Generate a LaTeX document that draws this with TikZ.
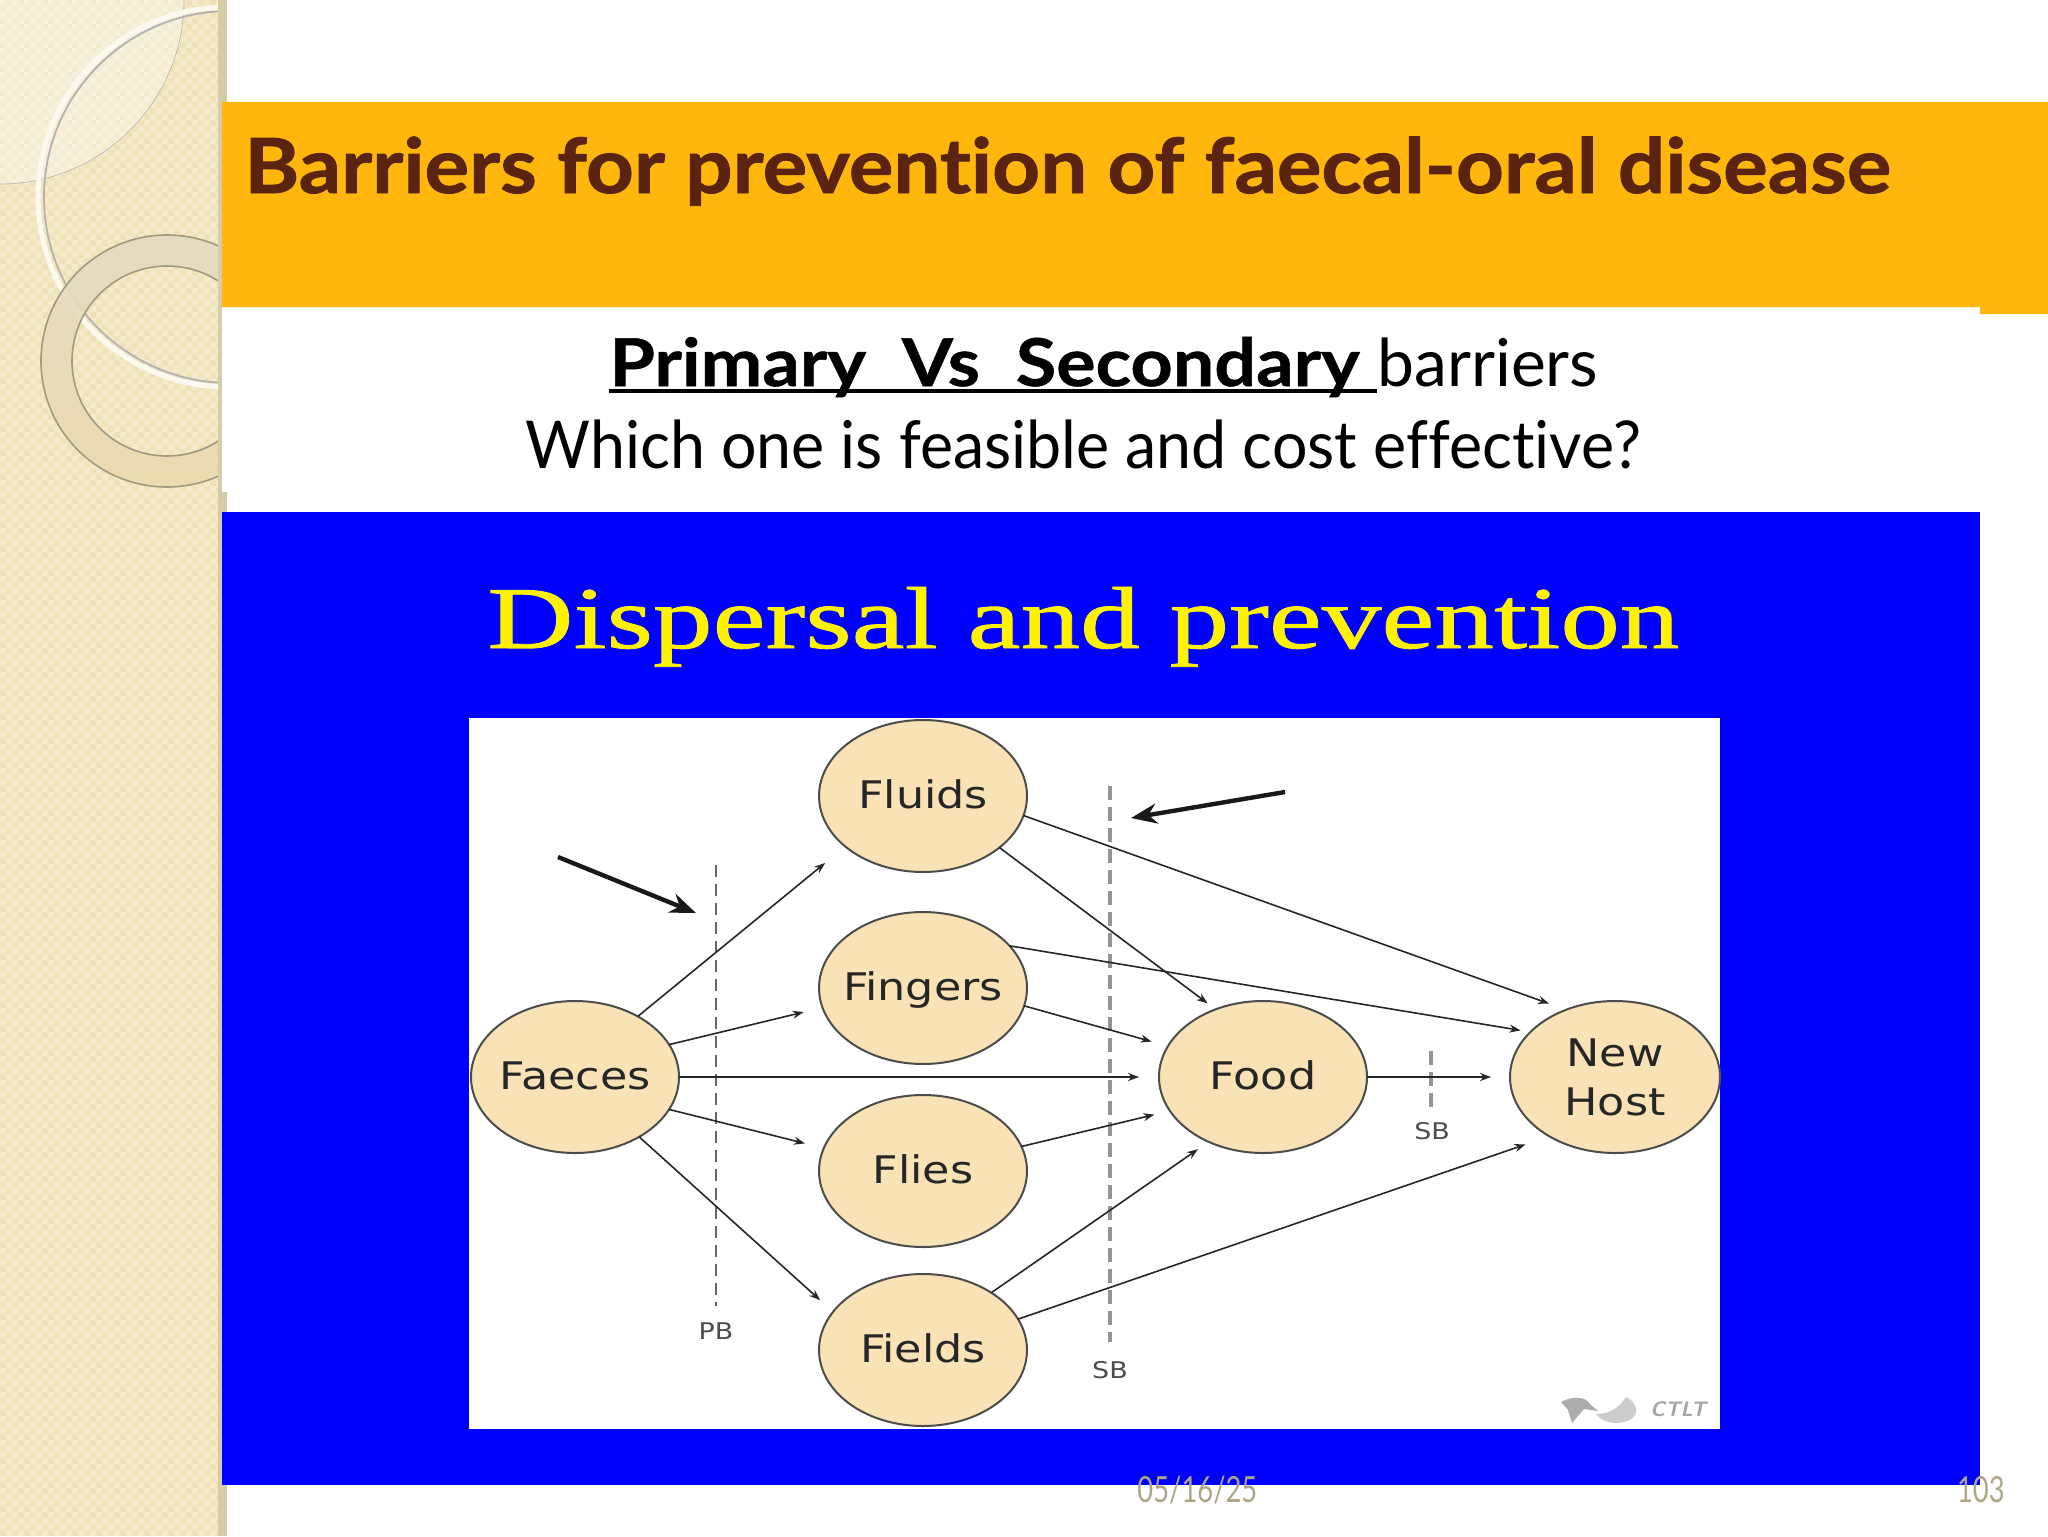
\documentclass[tikz,border=0pt]{standalone}
\usepackage{fontspec}
\setmainfont[Ligatures=NoCommon]{Lato}
\newfontfamily\titlefont[Ligatures=NoCommon,FakeStretch=1.098,FakeBold=1.2]{Lato Bold}
\newfontfamily\strongfont[Ligatures=NoCommon,FakeStretch=1.116,FakeBold=0.8]{Lato Bold}
\newfontfamily\subfont[Ligatures=NoCommon,FakeStretch=0.95]{Lato}
\newfontfamily\diagramfont[FakeStretch=1.17]{DejaVu Sans}
\newfontfamily\headfont[FakeStretch=1.355,FakeBold=1]{Liberation Serif}
\newfontfamily\footfont[FakeStretch=0.76]{Lato}
\usetikzlibrary{shapes.geometric,arrows.meta}
\definecolor{sidebase}{HTML}{EFE2B8}
\definecolor{sidedot}{HTML}{F4EACA}
\definecolor{sidestrip}{HTML}{D5CDA8}
\definecolor{bandorange}{HTML}{FFB60D}
\definecolor{titlebrown}{HTML}{5A2410}
\definecolor{bubblefill}{HTML}{F8E2B6}
\definecolor{footgrey}{HTML}{ADA587}
\tikzset{
  bubble/.style={ellipse,draw=black!70,fill=bubblefill,line width=1pt,inner xsep=-14pt,inner ysep=-14pt,outer sep=0pt,
    minimum width=104pt,minimum height=76pt,font=\diagramfont\fontsize{19}{21}\selectfont,
    text=black!85},
  single/.style={bubble,text height=12pt,text depth=0pt},
  route/.style={-{Stealth[length=5.5pt,width=4pt]},line width=0.8pt,black!85},
  barrier/.style={dash pattern=on 6pt off 3.5pt,line width=1.2pt,black!60},
  widebar/.style={dash pattern=on 7pt off 3.5pt,line width=2.2pt,black!42},
  pointer/.style={-{Stealth[length=13pt,width=10pt]},line width=2.2pt,black!90},
  tag/.style={font=\diagramfont\fontsize{11.5}{12}\selectfont,text=black!70,inner sep=0pt}
}
\begin{document}
\begin{tikzpicture}[x=0.5pt,y=-0.5pt]
  \useasboundingbox (0,0) rectangle (2048,1536);
  % sidebar
  \fill[sidebase] (0,0) rectangle (222,1536);
  \begin{scope}
    \clip (0,0) rectangle (222,1536);
    \fill[sidedot] \foreach \i in {0,12,...,216} {\foreach \j in {0,12,...,1524}
      {(\i,\j) rectangle ++(6,6) (\i+6,\j+6) rectangle ++(6,6)}};
    \fill[white,opacity=0.35] (0,0) circle (184);
    \draw[black!30,line width=0.3pt] (0,0) circle (184);
    \draw[black!30,line width=0.9pt] (230,197) circle (186);
    \draw[white!80!sidebase,line width=2.5pt] (228,197) circle (190);
    \shade[even odd rule,top color=white!30!sidebase!85!gray,bottom color=sidebase!92!brown,opacity=0.9]
      (167,361) circle (126) (167,361) circle (95);
    \draw[sidestrip!75!black,line width=0.8pt] (167,361) circle (126) (167,361) circle (95);
  \end{scope}
  \fill[sidestrip] (218,0) rectangle (227,1536);
  % bands
  \fill[white] (222,307) rectangle (1980,492);
  \fill[bandorange] (222,102) rectangle (2048,307) (1980,300) rectangle (2048,314);
  \fill[blue] (222,512) rectangle (1980,1485);
  \fill[white] (469,718) rectangle (1720,1429);
  % texts
  \node[anchor=base west,inner sep=0pt,text=titlebrown,font=\titlefont\fontsize{38}{40}\selectfont] (title) at (244,193)
    {Barriers for prevention of faecal-oral disease};
  \node[anchor=base west,inner sep=0pt,font=\strongfont\fontsize{33}{36}\selectfont] (lineone) at (609,386)
    {Primary\ \ Vs\ \ Secondary};
  \node[anchor=base west,inner sep=0pt,font=\fontsize{33}{36}\selectfont] (linetail) at (1377,386) {barriers};
  \draw[line width=2pt] ([yshift=-2.5pt]lineone.base west) to ([yshift=-2.5pt]linetail.base west);
  \node[anchor=base west,inner sep=0pt,font=\subfont\fontsize{33}{36}\selectfont] (linetwo) at (525,468)
    {Which one is feasible and cost effective?};
  \node[anchor=base west,inner sep=0pt,text=yellow,font=\headfont\fontsize{44}{46}\selectfont] (head) at (487,648)
    {Dispersal and prevention};
  % barriers
  \coordinate (pbtop) at (716,865);
  \coordinate (pbend) at (716,1306);
  \coordinate (sbtop) at (1110,786);
  \coordinate (sbend) at (1110,1342);
  \coordinate (sctop) at (1431,1051);
  \coordinate (scend) at (1431,1111);
  \draw[barrier] (pbtop) to (pbend);
  \draw[widebar] (sbtop) to (sbend);
  \draw[widebar,line width=1.6pt] (sctop) to (scend);
  \node[tag] (pb) at (716,1331) {PB};
  \node[tag] (sb) at (1110,1370) {SB};
  \node[tag] (sc) at (1432,1131) {SB};
  % nodes
  \node[single] (faeces) at (575,1077) {Faeces};
  \node[single] (fluids) at (923,796) {Fluids};
  \node[single] (fingers) at (923,988) {Fingers};
  \node[single] (flies) at (923,1171) {Flies};
  \node[single] (fields) at (923,1350) {Fields};
  \node[single] (food) at (1263,1077) {Food};
  \node[bubble,align=center,minimum width=105pt] (host) at (1615,1077) {New\\[3.5pt]Host};
  % routes
  \draw[route,shorten >=13pt] (faeces.44.5) to (fluids.213.6);
  \draw[route,shorten >=9.7pt] (faeces.19.8) to (fingers.191);
  \draw[route,shorten >=10pt] (faeces.east) to (food.west);
  \draw[route,shorten >=9.7pt] (faeces.-19.3) to (flies.167);
  \draw[route,shorten >=8.7pt] (faeces.-43) to (fields.157.4);
  \draw[route,shorten >=5pt] (fluids.-34) to (food.125.3);
  \draw[route,shorten >=9pt] (fluids.-11) to (host.126.7);
  \draw[route,shorten >=8.5pt] (fingers.-10) to (food.162.5);
  \draw[route,shorten >=5pt] (fingers.26.6) to (host.152.5);
  \draw[route,shorten >=8pt] (flies.14.3) to (food.200.2);
  \draw[route,shorten >=6.5pt] (fields.40.6) to (food.230);
  \draw[route,shorten >=12.5pt] (fields.18.6) to (host.222.6);
  \draw[route,shorten >=9.5pt] (food.east) to (host.west);
  % pointers
  \coordinate (pa) at (558,857);
  \coordinate (pb1) at (696,913);
  \coordinate (pc) at (1285,792);
  \coordinate (pd) at (1131,818);
  \draw[pointer] (pa) to (pb1);
  \draw[pointer] (pc) to (pd);
  % logo
  \fill[black!32] (1561,1402) .. controls (1572,1396) and (1585,1396) .. (1590,1404) -- (1598,1411) -- (1584,1409) -- (1572,1423) -- (1568,1410) -- cycle;
  \fill[black!20] (1596,1414) .. controls (1612,1414) and (1620,1406) .. (1626,1397) .. controls (1637,1402) and (1640,1414) .. (1630,1420) .. controls (1618,1425) and (1604,1424) .. (1596,1414) -- cycle;
  \node[anchor=west,inner sep=0pt,text=black!35,font=\sffamily\bfseries\itshape\fontsize{10.5}{11}\selectfont] (ctlt) at (1650,1409) {CTLT};
  % footer
  \node[anchor=base west,inner sep=0pt,text=footgrey,font=\footfont\fontsize{18}{18}\selectfont] (date) at (1137,1502) {05/16/25};
  \node[anchor=base east,inner sep=0pt,text=footgrey,font=\footfont\fontsize{18}{18}\selectfont] (page) at (2005,1502) {103};
\end{tikzpicture}
\end{document}
